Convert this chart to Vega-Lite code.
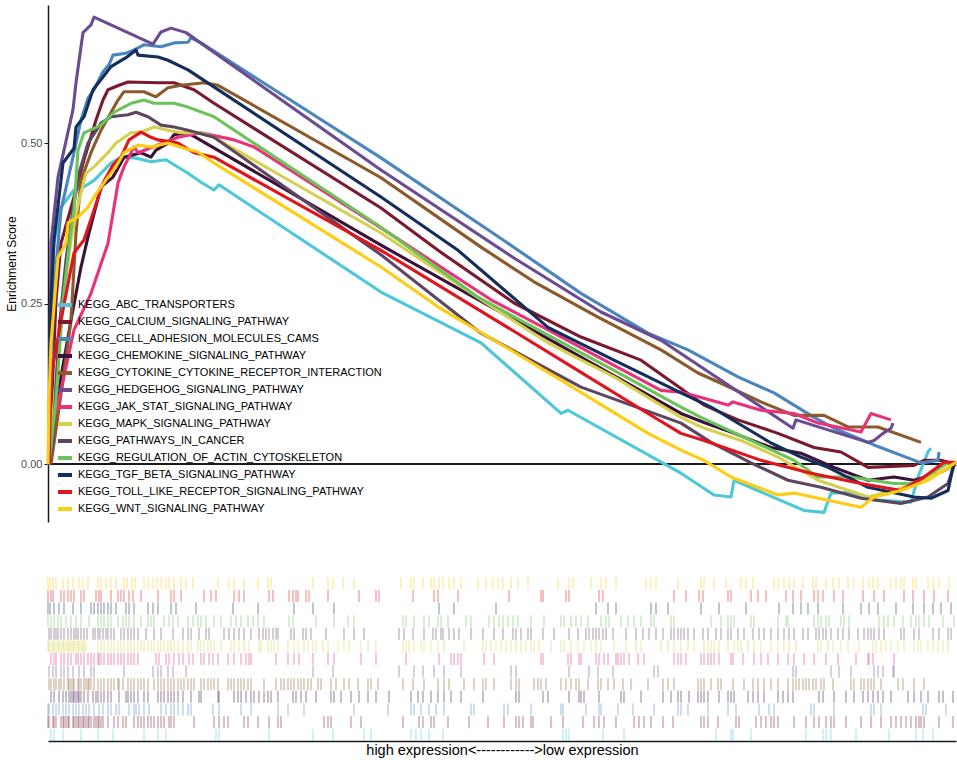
{
  "$schema": "https://vega.github.io/schema/vega-lite/v6.json",
  "background": "white",
  "padding": 5,
  "bounds": "flush",
  "spacing": 55,
  "resolve": {"legend": {"color": "independent"}},
  "config": {
    "view": {"stroke": null},
    "font": "Liberation Sans"
  },
  "datasets": {
    "curves": [
      {"set": "KEGG_ABC_TRANSPORTERS", "x": [1,3,6,13,26,36,46,63,73,86,103,118,140,153,166,171,333,433,513,520,633,666,683,686,756,776,783,800,830,863,870,880,883], "y": [0,0.224,0.344,0.400,0.427,0.432,0.442,0.469,0.478,0.477,0.471,0.474,0.453,0.439,0.427,0.435,0.268,0.189,0.079,0.084,-0.014,-0.048,-0.051,-0.025,-0.072,-0.075,-0.045,-0.044,-0.056,-0.059,-0.020,0.019,0.025]},
      {"set": "KEGG_CALCIUM_SIGNALING_PATHWAY", "x": [1,8,13,26,36,48,55,60,71,80,110,126,146,166,333,390,466,533,593,633,656,690,730,766,793,820,866,876,893,908], "y": [0,0.255,0.344,0.416,0.474,0.536,0.567,0.583,0.590,0.595,0.594,0.594,0.583,0.562,0.399,0.333,0.251,0.198,0.162,0.118,0.092,0.069,0.048,0.026,0.019,-0.005,-0.002,0.006,0.006,0]},
      {"set": "KEGG_CELL_ADHESION_MOLECULES_CAMS", "x": [1,5,13,25,33,40,46,55,61,65,78,86,96,113,126,140,143,153,333,460,533,600,640,690,726,766,786,826,873,890,891], "y": [0,0.255,0.396,0.478,0.536,0.570,0.583,0.611,0.622,0.637,0.640,0.645,0.653,0.650,0.656,0.657,0.664,0.656,0.477,0.344,0.266,0.204,0.178,0.136,0.111,0.073,0.056,0.030,0.002,0.006,0.019]},
      {"set": "KEGG_CHEMOKINE_SIGNALING_PATHWAY", "x": [1,13,23,33,40,53,65,76,93,103,108,120,126,140,333,520,633,656,683,723,753,786,820,846,866,890,903,908], "y": [0,0.136,0.224,0.307,0.354,0.432,0.447,0.478,0.485,0.478,0.489,0.500,0.513,0.516,0.341,0.178,0.079,0.065,0.050,0.026,0.017,-0.005,-0.025,-0.020,-0.025,-0.014,-0.005,0]},
      {"set": "KEGG_CYTOKINE_CYTOKINE_RECEPTOR_INTERACTION", "x": [3,15,23,28,33,43,53,70,76,96,108,120,133,156,170,333,433,486,550,613,650,673,713,746,776,800,830,873], "y": [0,0.131,0.224,0.360,0.442,0.485,0.520,0.567,0.580,0.580,0.572,0.586,0.590,0.594,0.590,0.446,0.338,0.284,0.229,0.178,0.142,0.126,0.097,0.076,0.076,0.058,0.058,0.034]},
      {"set": "KEGG_HEDGEHOG_SIGNALING_PATHWAY", "x": [1,3,10,16,25,28,33,35,43,46,105,113,123,138,333,466,553,613,745,748,820,826,835,843,845], "y": [0,0.344,0.447,0.489,0.552,0.594,0.650,0.672,0.684,0.696,0.654,0.673,0.679,0.672,0.458,0.321,0.237,0.193,0.056,0.069,0.034,0.037,0.048,0.056,0.064]},
      {"set": "KEGG_JAK_STAT_SIGNALING_PATHWAY", "x": [1,3,13,26,43,60,70,76,86,90,130,153,186,206,333,443,500,566,613,633,646,680,685,713,746,770,813,823,843], "y": [0,0.048,0.115,0.209,0.266,0.344,0.438,0.463,0.494,0.485,0.509,0.516,0.505,0.494,0.368,0.256,0.209,0.154,0.115,0.112,0.107,0.092,0.097,0.084,0.079,0.064,0.050,0.079,0.069]},
      {"set": "KEGG_MAPK_SIGNALING_PATHWAY", "x": [1,8,15,23,31,38,46,60,68,83,93,106,120,133,153,166,333,433,500,566,633,653,693,730,770,820,846,873,903,908], "y": [0,0.131,0.255,0.349,0.411,0.453,0.463,0.485,0.500,0.516,0.517,0.525,0.520,0.516,0.516,0.509,0.360,0.256,0.189,0.136,0.073,0.058,0.037,0.011,-0.025,-0.051,-0.041,-0.025,-0.005,0]},
      {"set": "KEGG_PATHWAYS_IN_CANCER", "x": [1,5,11,18,25,31,40,53,63,80,88,100,113,126,140,166,333,433,533,633,663,703,740,773,813,853,880,900,906], "y": [0,0.037,0.209,0.318,0.396,0.453,0.500,0.531,0.541,0.544,0.548,0.541,0.528,0.525,0.520,0.509,0.326,0.204,0.120,0.064,0.034,0.002,-0.025,-0.036,-0.053,-0.061,-0.051,-0.030,-0.002]},
      {"set": "KEGG_REGULATION_OF_ACTIN_CYTOSKELETON", "x": [1,8,15,23,26,30,36,53,66,83,96,106,126,140,166,333,430,500,566,633,653,696,746,770,803,846,866,900,908], "y": [0,0.100,0.255,0.365,0.396,0.489,0.516,0.528,0.548,0.562,0.567,0.562,0.562,0.556,0.541,0.369,0.260,0.201,0.146,0.089,0.073,0.042,0.006,-0.020,-0.020,-0.030,-0.030,0.002,0]},
      {"set": "KEGG_TGF_BETA_SIGNALING_PATHWAY", "x": [1,3,6,15,26,28,36,45,55,63,78,88,90,110,120,140,333,410,500,566,633,663,723,753,780,820,866,883,900,906,908], "y": [0,0.255,0.349,0.469,0.492,0.525,0.541,0.583,0.603,0.619,0.633,0.645,0.637,0.634,0.629,0.614,0.416,0.333,0.213,0.162,0.111,0.089,0.033,0.011,-0.005,-0.036,-0.051,-0.053,-0.041,0.002,0]},
      {"set": "KEGG_TOLL_LIKE_RECEPTOR_SIGNALING_PATHWAY", "x": [1,3,13,26,36,46,55,65,73,81,93,103,110,130,146,166,333,466,533,600,633,656,713,763,813,853,876,896,908], "y": [0,0.136,0.224,0.329,0.349,0.396,0.438,0.466,0.478,0.505,0.517,0.509,0.505,0.500,0.485,0.478,0.333,0.207,0.143,0.079,0.048,0.037,0.006,-0.014,-0.030,-0.041,-0.020,0.003,0.003]},
      {"set": "KEGG_WNT_SIGNALING_PATHWAY", "x": [0,1,3,10,18,20,30,40,46,51,60,68,76,90,103,120,136,150,166,333,390,446,513,600,633,656,683,730,746,780,813,826,853,880,900,908], "y": [0,0.100,0.189,0.322,0.344,0.376,0.385,0.400,0.416,0.427,0.447,0.463,0.485,0.497,0.494,0.500,0.492,0.486,0.469,0.307,0.245,0.193,0.131,0.048,0.022,0.006,-0.020,-0.048,-0.045,-0.056,-0.067,-0.051,-0.041,-0.025,-0.005,0.003]}
    ],
    "hits": [
      {"set": "KEGG_WNT_SIGNALING_PATHWAY", "x": [0,2,5,8,15,20,25,31,35,40,50,53,58,63,68,76,79,84,87,96,100,105,109,113,118,121,126,133,138,145,170,181,186,196,210,220,223,265,280,285,295,306,353,363,366,375,383,386,391,395,401,406,413,430,438,445,450,455,463,470,480,510,521,525,543,553,558,568,598,603,608,630,653,656,666,678,693,698,705,726,730,736,741,746,755,765,768,778,785,791,800,806,815,821,825,830,843,848,853,856,865,868,880,885,891,901]},
      {"set": "KEGG_TOLL_LIKE_RECEPTOR_SIGNALING_PATHWAY", "x": [0,3,5,13,16,20,23,26,33,36,48,51,53,63,70,73,76,81,85,93,110,123,126,133,156,163,168,186,191,196,221,225,241,245,248,250,258,261,280,311,328,331,365,386,390,410,461,493,495,518,521,551,555,626,638,651,655,680,683,703,710,718,738,745,753,766,770,775,786,795,815,826,836,856,865,876,886,900]},
      {"set": "KEGG_TGF_BETA_SIGNALING_PATHWAY", "x": [0,2,6,11,16,25,33,43,46,50,53,56,60,63,68,78,81,86,100,105,110,123,128,148,185,210,246,265,286,391,406,448,548,560,568,603,608,620,653,671,698,731,745,753,760,770,795,813,821,830,848,865,876,885,893,903]},
      {"set": "KEGG_REGULATION_OF_ACTIN_CYTOSKELETON", "x": [0,3,6,10,13,18,23,28,33,41,50,53,56,60,63,70,75,78,81,86,93,100,103,106,116,121,125,130,140,145,150,153,158,166,173,183,188,193,200,205,210,216,241,245,268,286,300,306,355,358,366,376,381,390,393,400,418,423,441,446,451,455,460,465,470,483,496,513,516,523,528,533,540,553,558,561,573,580,586,593,603,606,623,626,663,673,680,683,686,703,706,730,738,740,766,770,773,778,781,793,796,801,831,836,840,846,855,863,868,871,876,881,895,906]},
      {"set": "KEGG_PATHWAYS_IN_CANCER", "x": [1,3,6,8,10,13,16,20,23,26,28,30,33,36,39,45,47,50,52,55,58,60,63,66,73,76,80,83,86,90,98,106,113,125,135,140,143,151,158,161,176,181,186,191,196,203,211,215,218,221,225,228,230,243,246,255,258,263,278,296,306,316,351,356,365,376,385,388,393,395,401,406,411,423,435,446,455,465,468,473,480,483,495,506,521,530,538,541,545,548,551,555,558,565,578,588,595,601,608,615,623,626,630,633,636,640,646,655,660,668,673,680,683,690,696,705,711,716,723,730,736,741,746,755,760,768,771,775,778,783,790,795,801,810,816,820,823,826,831,836,853,856,866,871,885,891,900,903]},
      {"set": "KEGG_MAPK_SIGNALING_PATHWAY", "x": [0,1,3,5,6,8,10,11,13,15,16,18,20,21,23,25,26,28,30,31,33,35,36,38,50,53,56,60,63,66,70,73,76,80,83,86,90,93,96,100,103,106,110,113,116,120,123,126,130,135,140,143,150,153,156,160,163,166,173,183,186,191,196,201,211,213,220,223,226,230,240,246,250,256,260,265,268,275,280,290,296,301,313,320,328,355,358,361,366,373,376,383,390,396,416,435,438,443,448,453,458,463,468,473,478,483,486,491,503,513,516,523,530,536,543,548,553,566,578,588,593,613,620,626,633,640,646,656,660,663,666,671,680,686,690,693,700,706,713,723,730,736,741,748,770,773,780,785,793,800,811,825,828,833,838,843,850,856,866,870,873,880,885,890,895,900]},
      {"set": "KEGG_JAK_STAT_SIGNALING_PATHWAY", "x": [3,6,8,13,16,20,23,28,30,33,36,40,43,46,50,51,53,56,60,63,66,70,73,76,80,83,86,90,108,111,118,121,126,131,135,141,145,153,156,161,165,170,180,186,193,198,201,203,228,240,246,251,265,280,286,313,328,358,391,403,406,410,413,436,446,493,495,520,523,531,533,548,551,556,560,568,570,573,576,581,590,596,626,630,633,638,653,656,660,663,666,671,683,685,695,706,713,720,730,740,746,756,766,778,790,808,820,821,825,846]},
      {"set": "KEGG_HEDGEHOG_SIGNALING_PATHWAY", "x": [1,5,8,13,16,20,25,31,36,43,46,76,105,110,113,120,125,138,265,285,351,366,375,386,396,413,463,468,521,541,550,565,606,610,745,748,783,791,803,826,830,835,845,846]},
      {"set": "KEGG_CYTOKINE_CYTOKINE_RECEPTOR_INTERACTION", "x": [1,3,6,8,11,13,16,20,21,23,25,26,30,31,33,36,38,40,41,43,46,50,53,56,60,63,66,70,71,75,80,83,86,90,93,96,100,106,110,113,116,120,123,126,130,133,136,140,143,146,153,156,160,163,166,170,180,183,186,190,193,196,200,203,216,228,233,236,240,243,246,250,253,256,260,263,270,273,283,288,296,301,310,320,323,330,355,365,376,390,396,401,416,426,435,438,446,463,468,471,486,490,493,498,513,518,523,528,531,540,550,553,560,566,575,583,600,615,620,626,650,653,656,663,670,673,685,696,705,710,716,723,730,740,745,748,751,755,758,761,765,768,773,776,785,803,806,813,816,820,823,826,833,850,855,866,876]},
      {"set": "KEGG_CHEMOKINE_SIGNALING_PATHWAY", "x": [3,6,11,15,18,21,23,25,26,28,30,31,33,36,40,45,48,50,53,56,60,63,71,78,80,83,86,90,96,100,110,113,116,120,123,126,130,135,143,151,153,170,171,186,190,193,198,203,206,211,216,220,223,230,245,248,253,258,268,283,286,293,303,311,320,328,341,363,370,375,383,390,396,403,413,435,468,471,495,500,521,531,533,536,551,573,576,593,615,623,630,633,641,650,653,656,660,671,680,683,686,700,705,710,716,730,735,740,745,771,775,786,798,806,815,820,825,830,835,843,860,866,873,880,891,895,905]},
      {"set": "KEGG_CELL_ADHESION_MOLECULES_CAMS", "x": [0,1,5,8,11,15,18,21,25,28,31,35,38,41,46,51,55,60,63,68,71,81,86,88,91,96,101,113,118,123,126,130,135,140,143,165,171,193,203,230,240,256,306,340,363,366,373,381,388,396,423,426,456,460,483,513,515,538,551,553,570,585,606,630,633,640,660,680,688,711,721,726,763,766,786,823,826,833,875,878,898]},
      {"set": "KEGG_CALCIUM_SIGNALING_PATHWAY", "x": [0,1,5,6,8,13,15,16,18,20,21,25,26,28,30,31,33,35,36,38,40,41,43,46,48,50,51,53,55,60,66,70,75,78,86,90,93,96,100,103,106,110,113,116,121,123,126,146,166,171,176,180,196,200,210,221,230,233,276,280,283,303,313,355,371,375,383,386,400,421,440,456,468,471,475,483,485,503,515,535,546,551,556,568,586,591,596,603,615,625,653,656,660,670,688,691,708,713,718,723,726,730,746,758,766,771,778,783,786,798,813,823,833,843,848,853,858,863,868,871,873,876,891,905]},
      {"set": "KEGG_ABC_TRANSPORTERS", "x": [3,6,15,33,50,65,96,110,118,168,171,221,265,285,316,323,363,368,373,381,395,515,518,521,555,576,668,683,685,703,758,775,778,783,808,841,868,875,885]}
    ]
  },
  "vconcat": [
    {
      "width": 908,
      "height": 517,
      "data": {"name": "curves"},
      "transform": [{"flatten": ["x", "y"]}],
      "layer": [
        {
          "mark": {"type": "rule", "color": "#1a1a1a", "strokeWidth": 1.5},
          "encoding": {"y": {"datum": 0, "type": "quantitative"}}
        },
        {
          "mark": {"type": "line", "strokeWidth": 3.1, "strokeJoin": "round"},
          "encoding": {
            "x": {"field": "x", "type": "quantitative", "axis": null, "scale": {"domain": [0, 908], "nice": false, "zero": false}},
            "y": {
              "field": "y",
              "type": "quantitative",
              "title": "Enrichment Score",
              "scale": {"domain": [-0.09, 0.715], "nice": false, "zero": false},
              "axis": {
                "values": [0, 0.25, 0.5],
                "format": ".2f",
                "grid": false,
                "domainColor": "#1a1a1a",
                "domainWidth": 1.5,
                "tickColor": "#1a1a1a",
                "tickSize": 4,
                "labelColor": "#4d4d4d",
                "labelFontSize": 11,
                "titleFontSize": 12,
                "titleFontWeight": "normal",
                "titleColor": "black",
                "titlePadding": 2
              }
            },
            "color": {
              "field": "set",
              "type": "nominal",
              "scale": {
                "domain": ["KEGG_ABC_TRANSPORTERS","KEGG_CALCIUM_SIGNALING_PATHWAY","KEGG_CELL_ADHESION_MOLECULES_CAMS","KEGG_CHEMOKINE_SIGNALING_PATHWAY","KEGG_CYTOKINE_CYTOKINE_RECEPTOR_INTERACTION","KEGG_HEDGEHOG_SIGNALING_PATHWAY","KEGG_JAK_STAT_SIGNALING_PATHWAY","KEGG_MAPK_SIGNALING_PATHWAY","KEGG_PATHWAYS_IN_CANCER","KEGG_REGULATION_OF_ACTIN_CYTOSKELETON","KEGG_TGF_BETA_SIGNALING_PATHWAY","KEGG_TOLL_LIKE_RECEPTOR_SIGNALING_PATHWAY","KEGG_WNT_SIGNALING_PATHWAY"],
                "range": ["#4DC8D8","#7A1A2E","#4A86BE","#3A1238","#8C5A2A","#6A4C93","#E8327A","#D7D04E","#5E4660","#6CC35A","#142E5C","#E0141E","#FFCD10"]
              },
              "legend": {
                "title": null,
                "orient": "none",
                "legendX": 8,
                "legendY": 291,
                "symbolType": "stroke",
                "symbolStrokeWidth": 4,
                "symbolSize": 196,
                "labelFontSize": 11,
                "labelColor": "black",
                "labelLimit": 400,
                "rowPadding": 0,
                "labelOffset": 4
              }
            }
          }
        }
      ]
    },
    {
      "width": 908,
      "height": 164,
      "data": {"name": "hits"},
      "transform": [{"flatten": ["x"]}],
      "mark": {"type": "tick", "thickness": 1.2, "size": 12, "opacity": 0.45},
      "encoding": {
        "x": {
          "field": "x",
          "type": "quantitative",
          "title": "high expression<------------>low expression",
          "scale": {"domain": [0, 908], "nice": false, "zero": false},
          "axis": {
            "ticks": false,
            "labels": false,
            "grid": false,
            "domainColor": "#1a1a1a",
            "domainWidth": 1.5,
            "titleFontSize": 14.5,
            "titleFontWeight": "normal",
            "titleColor": "black",
            "titlePadding": 2
          }
        },
        "y": {
          "field": "set",
          "type": "nominal",
          "axis": null,
          "sort": ["KEGG_WNT_SIGNALING_PATHWAY","KEGG_TOLL_LIKE_RECEPTOR_SIGNALING_PATHWAY","KEGG_TGF_BETA_SIGNALING_PATHWAY","KEGG_REGULATION_OF_ACTIN_CYTOSKELETON","KEGG_PATHWAYS_IN_CANCER","KEGG_MAPK_SIGNALING_PATHWAY","KEGG_JAK_STAT_SIGNALING_PATHWAY","KEGG_HEDGEHOG_SIGNALING_PATHWAY","KEGG_CYTOKINE_CYTOKINE_RECEPTOR_INTERACTION","KEGG_CHEMOKINE_SIGNALING_PATHWAY","KEGG_CELL_ADHESION_MOLECULES_CAMS","KEGG_CALCIUM_SIGNALING_PATHWAY","KEGG_ABC_TRANSPORTERS"],
          "scale": {"paddingInner": 0, "paddingOuter": 0}
        },
        "color": {
          "field": "set",
          "type": "nominal",
          "legend": null,
          "scale": {
            "domain": ["KEGG_ABC_TRANSPORTERS","KEGG_CALCIUM_SIGNALING_PATHWAY","KEGG_CELL_ADHESION_MOLECULES_CAMS","KEGG_CHEMOKINE_SIGNALING_PATHWAY","KEGG_CYTOKINE_CYTOKINE_RECEPTOR_INTERACTION","KEGG_HEDGEHOG_SIGNALING_PATHWAY","KEGG_JAK_STAT_SIGNALING_PATHWAY","KEGG_MAPK_SIGNALING_PATHWAY","KEGG_PATHWAYS_IN_CANCER","KEGG_REGULATION_OF_ACTIN_CYTOSKELETON","KEGG_TGF_BETA_SIGNALING_PATHWAY","KEGG_TOLL_LIKE_RECEPTOR_SIGNALING_PATHWAY","KEGG_WNT_SIGNALING_PATHWAY"],
            "range": ["#4DC8D8","#7A1A2E","#4A86BE","#3A1238","#8C5A2A","#6A4C93","#E8327A","#D7D04E","#5E4660","#6CC35A","#142E5C","#E0141E","#FFCD10"]
          }
        }
      }
    }
  ]
}
